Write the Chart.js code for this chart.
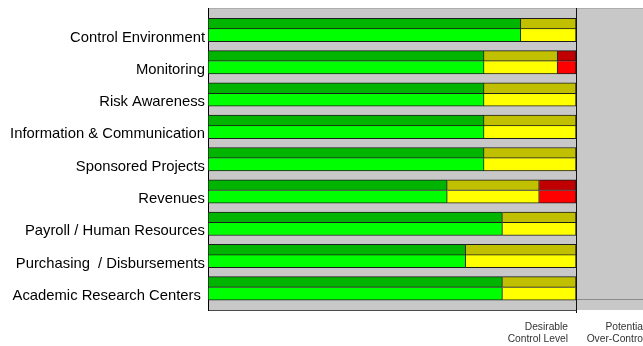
<!DOCTYPE html>
<html>
<head>
<meta charset="utf-8">
<script src="https://cdn.jsdelivr.net/npm/chart.js@4.4.1/dist/chart.umd.min.js"></script>
<style>
  html, body { margin: 0; padding: 0; background: #fff; }
  #chart { display: block; }
</style>
</head>
<body>
<canvas id="chart" width="643" height="346"></canvas>
<script>
const categories = [
  'Control Environment',
  'Monitoring',
  'Risk Awareness',
  'Information & Communication',
  'Sponsored Projects',
  'Revenues',
  'Payroll / Human Resources',
  'Purchasing  / Disbursements',
  'Academic Research Centers '
];

// segment lengths, 100 = desirable control level
const greenScores  = [85, 75, 75, 75, 75, 65, 80, 70, 80];
const yellowScores = [15, 20, 25, 25, 25, 25, 20, 30, 20];
const redScores    = [0, 5, 0, 0, 0, 10, 0, 0, 0];

const levelTicks  = [100, 121];
const levelLabels = [['Desirable', 'Control Level'], ['Potential', 'Over-Control']];

const DARK_H = 10.7;
const LIGHT_H = 12.7;
const FONT = 'Liberation Sans, Arial, Helvetica, sans-serif';

function segment(values, color, stack, first) {
  const light = stack === 'light';
  return {
    data: values.map((v, i) => ({ x: v || null, y: i })),
    stack: stack,
    backgroundColor: color,
    borderColor: '#1c1c1c',
    borderWidth: { top: light ? 0 : 1, right: 1, bottom: 1, left: first ? 1 : 0 },
    borderSkipped: false,
    barThickness: light ? LIGHT_H : DARK_H
  };
}

// gray plot field, axis stub under the bars, floor of the over-control zone
const zones = {
  id: 'zones',
  beforeDraw(chart) {
    const { ctx, chartArea: a, scales: { x, y } } = chart;
    const lvl = x.getPixelForValue(levelTicks[0]);
    ctx.save();
    ctx.fillStyle = '#c8c8c8';
    ctx.fillRect(a.left, a.top, a.right - a.left, a.bottom - a.top);
    ctx.lineWidth = 1;
    ctx.strokeStyle = '#adadad';
    ctx.beginPath();
    ctx.moveTo(a.left, a.top + 0.5);
    ctx.lineTo(a.right, a.top + 0.5);
    ctx.stroke();
    ctx.strokeStyle = '#4a4a4a';
    ctx.beginPath();
    ctx.moveTo(a.left, a.bottom + 0.5);
    ctx.lineTo(lvl, a.bottom + 0.5);
    ctx.stroke();
    const floor = Math.round(y.getPixelForValue(categories.length - 1) + LIGHT_H) - 0.5;
    ctx.strokeStyle = '#8c8c8c';
    ctx.beginPath();
    ctx.moveTo(lvl, floor);
    ctx.lineTo(a.right, floor);
    ctx.stroke();
    ctx.restore();
  }
};

new Chart(document.getElementById('chart'), {
  type: 'bar',
  data: {
    datasets: [
      segment(greenScores, '#00b400', 'dark', true),
      segment(yellowScores, '#c0c000', 'dark', false),
      segment(redScores, '#c00000', 'dark', false),
      segment(greenScores, '#00ff00', 'light', true),
      segment(yellowScores, '#ffff00', 'light', false),
      segment(redScores, '#ff0000', 'light', false)
    ]
  },
  options: {
    responsive: false,
    animation: false,
    indexAxis: 'y',
    layout: { padding: { top: 8, right: 0, bottom: 0, left: 0 } },
    plugins: {
      legend: { display: false },
      tooltip: { enabled: false }
    },
    scales: {
      x: {
        type: 'linear',
        bounds: 'data',
        stacked: true,
        min: 0,
        max: 118.2,
        afterBuildTicks: s => { s.ticks = levelTicks.map(v => ({ value: v })); },
        afterFit: s => { s.height = 36; s.paddingLeft = 0; s.paddingRight = 0; },
        border: { display: false },
        grid: {
          color: c => (c.tick && c.tick.value === 100 ? '#111' : 'rgba(0,0,0,0)'),
          lineWidth: 1,
          drawTicks: true,
          tickLength: 3
        },
        ticks: {
          autoSkip: false,
          maxRotation: 0,
          minRotation: 0,
          align: 'end',
          labelOffset: -8,
          padding: 7.4,
          color: '#333',
          font: { family: FONT, size: 10.25, lineHeight: 1.23 },
          callback: v => levelLabels[levelTicks.indexOf(v)]
        }
      },
      y: {
        type: 'linear',
        bounds: 'data',
        offset: false,
        reverse: true,
        min: -0.65,
        max: 8.70,
        afterBuildTicks: s => { s.ticks = categories.map((_, i) => ({ value: i })); },
        afterFit: s => { s.width = 208; s.paddingTop = 0; s.paddingBottom = 0; },
        border: { display: true, color: '#000', width: 1 },
        grid: { display: false, drawTicks: false, offset: false },
        ticks: {
          autoSkip: false,
          padding: 3,
          labelOffset: 8.5,
          color: '#000',
          font: { family: FONT, size: 14.8 },
          callback: v => categories[v]
        }
      }
    }
  },
  plugins: [zones]
});
</script>
</body>
</html>
